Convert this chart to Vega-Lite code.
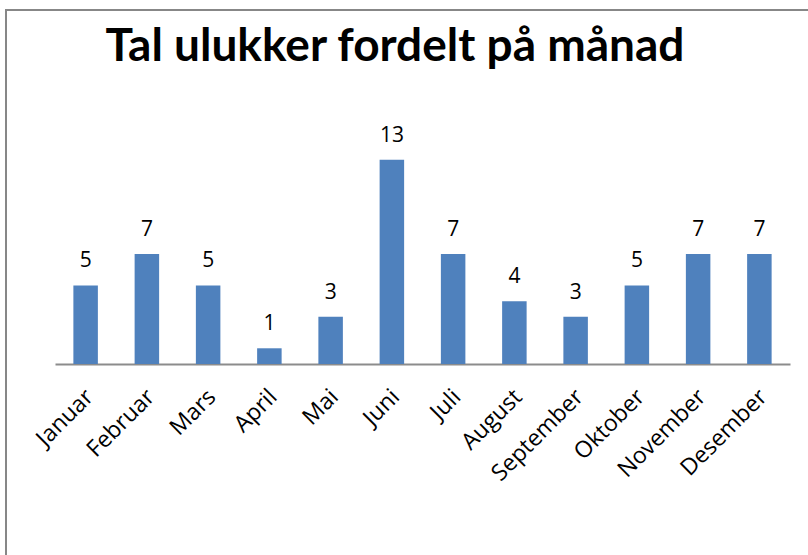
{
  "$schema": "https://vega.github.io/schema/vega-lite/v6.json",
  "width": 810,
  "height": 560,
  "padding": {"left": 6, "top": 10, "right": 0, "bottom": 0},
  "autosize": {"type": "none"},
  "background": "white",
  "config": {
    "view": {"stroke": "#878787", "strokeWidth": 2},
    "font": "Open Sans"
  },
  "title": {
    "text": "Tal ulukker fordelt på månad",
    "font": "Lato",
    "fontSize": 46,
    "fontWeight": "bold",
    "color": "#000000",
    "anchor": "middle",
    "baseline": "alphabetic",
    "offset": -97,
    "dx": -16
  },
  "data": {
    "values": [
      {"month": "Januar", "count": 5},
      {"month": "Februar", "count": 7},
      {"month": "Mars", "count": 5},
      {"month": "April", "count": 1},
      {"month": "Mai", "count": 3},
      {"month": "Juni", "count": 13},
      {"month": "Juli", "count": 7},
      {"month": "August", "count": 4},
      {"month": "September", "count": 3},
      {"month": "Oktober", "count": 5},
      {"month": "November", "count": 7},
      {"month": "Desember", "count": 7}
    ]
  },
  "encoding": {
    "x": {
      "field": "month",
      "type": "nominal",
      "sort": null,
      "title": null,
      "scale": {"range": [49, 784], "paddingInner": 0.6, "paddingOuter": 0.3},
      "axis": {
        "offset": -206,
        "domainColor": "#8c8c8c",
        "domainWidth": 2,
        "ticks": false,
        "tickSize": 0,
        "labelAngle": -45,
        "labelAlign": "right",
        "labelBaseline": "middle",
        "labelPadding": 29,
        "labelOffset": 4,
        "labelFont": "Open Sans",
        "labelFontSize": 23,
        "labelColor": "#000000",
        "labelOverlap": false
      }
    },
    "y": {
      "field": "count",
      "type": "quantitative",
      "scale": {"domain": [0, 14], "range": [354, 134]},
      "axis": null
    }
  },
  "layer": [
    {"mark": {"type": "bar", "color": "#4F81BD"}},
    {
      "mark": {"type": "text", "baseline": "alphabetic", "dy": -18, "fontSize": 21, "font": "Open Sans", "color": "#000000"},
      "encoding": {"text": {"field": "count", "type": "quantitative"}}
    }
  ]
}
